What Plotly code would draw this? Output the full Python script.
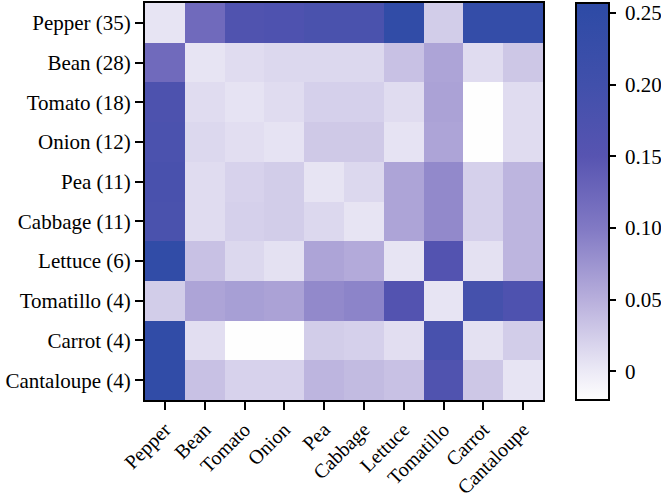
import plotly.graph_objects as go

row_labels = ["Pepper (35)", "Bean (28)", "Tomato (18)", "Onion (12)", "Pea (11)",
              "Cabbage (11)", "Lettuce (6)", "Tomatillo (4)", "Carrot (4)", "Cantaloupe (4)"]
col_labels = ["Pepper", "Bean", "Tomato", "Onion", "Pea",
              "Cabbage", "Lettuce", "Tomatillo", "Carrot", "Cantaloupe"]

pepper     = [0.005, 0.120, 0.165, 0.170, 0.180, 0.180, 0.245, 0.025, 0.235, 0.235]
bean       = [0.120, 0.005, 0.012, 0.015, 0.015, 0.015, 0.035, 0.060, 0.012, 0.030]
tomato     = [0.172, 0.012, 0.006, 0.012, 0.022, 0.022, 0.012, 0.062, -0.020, 0.012]
onion      = [0.178, 0.015, 0.010, 0.006, 0.028, 0.028, 0.006, 0.060, -0.020, 0.012]
pea        = [0.182, 0.012, 0.020, 0.025, 0.005, 0.015, 0.060, 0.085, 0.022, 0.045]
cabbage    = [0.180, 0.012, 0.022, 0.025, 0.015, 0.005, 0.060, 0.085, 0.022, 0.045]
lettuce    = [0.245, 0.035, 0.015, 0.008, 0.060, 0.055, 0.005, 0.160, 0.008, 0.045]
tomatillo  = [0.025, 0.060, 0.065, 0.062, 0.085, 0.090, 0.160, 0.005, 0.190, 0.170]
carrot     = [0.245, 0.010, -0.020, -0.020, 0.025, 0.022, 0.010, 0.185, 0.008, 0.025]
cantaloupe = [0.245, 0.035, 0.020, 0.020, 0.045, 0.040, 0.035, 0.165, 0.030, 0.005]

z = [pepper, bean, tomato, onion, pea, cabbage, lettuce, tomatillo, carrot, cantaloupe]

zmin, zmax = -0.02, 0.257
colorbar_ticks = [0, 0.05, 0.10, 0.15, 0.20, 0.25]
colorbar_ticktext = ["0", "0.05", "0.10", "0.15", "0.20", "0.25"]

def n(v):
    return (v - zmin) / (zmax - zmin)

colorscale = [
    [0.0, "#fefefe"],
    [n(0.0), "#eceaf6"],
    [n(0.05), "#b8afdc"],
    [n(0.10), "#8179c4"],
    [n(0.15), "#5754b1"],
    [n(0.20), "#4150ab"],
    [n(0.25), "#2f4ba6"],
    [1.0, "#2e4aa6"],
]

font_family = "Liberation Serif, Times New Roman, serif"
fsize = 21

fig = go.Figure(go.Heatmap(
    z=z, x=col_labels, y=row_labels,
    zmin=zmin, zmax=zmax, colorscale=colorscale,
    xgap=0, ygap=0,
    colorbar=dict(
        x=1.083, xanchor="left", y=0.5, yanchor="middle", len=1.0, lenmode="fraction",
        thickness=33, thicknessmode="pixels",
        outlinecolor="black", outlinewidth=2,
        tickvals=colorbar_ticks,
        ticktext=["&nbsp;" + t for t in colorbar_ticktext],
        ticks="outside", ticklen=6, tickwidth=2, tickcolor="black",
        tickfont=dict(family=font_family, size=fsize, color="black"),
        xpad=0, ypad=0,
    ),
))

fig.update_xaxes(
    tickangle=-45, ticks="outside", ticklen=8, tickwidth=2, tickcolor="black",
    showline=True, linecolor="black", linewidth=2, mirror=True,
    tickfont=dict(family=font_family, size=20, color="black"),
    showgrid=False, zeroline=False, automargin=False,
)
fig.update_yaxes(
    autorange="reversed", ticks="outside", ticklen=8, tickwidth=2, tickcolor="black",
    showline=True, linecolor="black", linewidth=2, mirror=True,
    tickfont=dict(family=font_family, size=fsize, color="black"),
    showgrid=False, zeroline=False, automargin=False,
)

fig.update_layout(
    width=661, height=501,
    margin=dict(l=145, r=118, t=3, b=101, pad=0, autoexpand=False),
    paper_bgcolor="white", plot_bgcolor="white",
    font=dict(family=font_family, color="black"),
)

fig.write_html("out.html")
